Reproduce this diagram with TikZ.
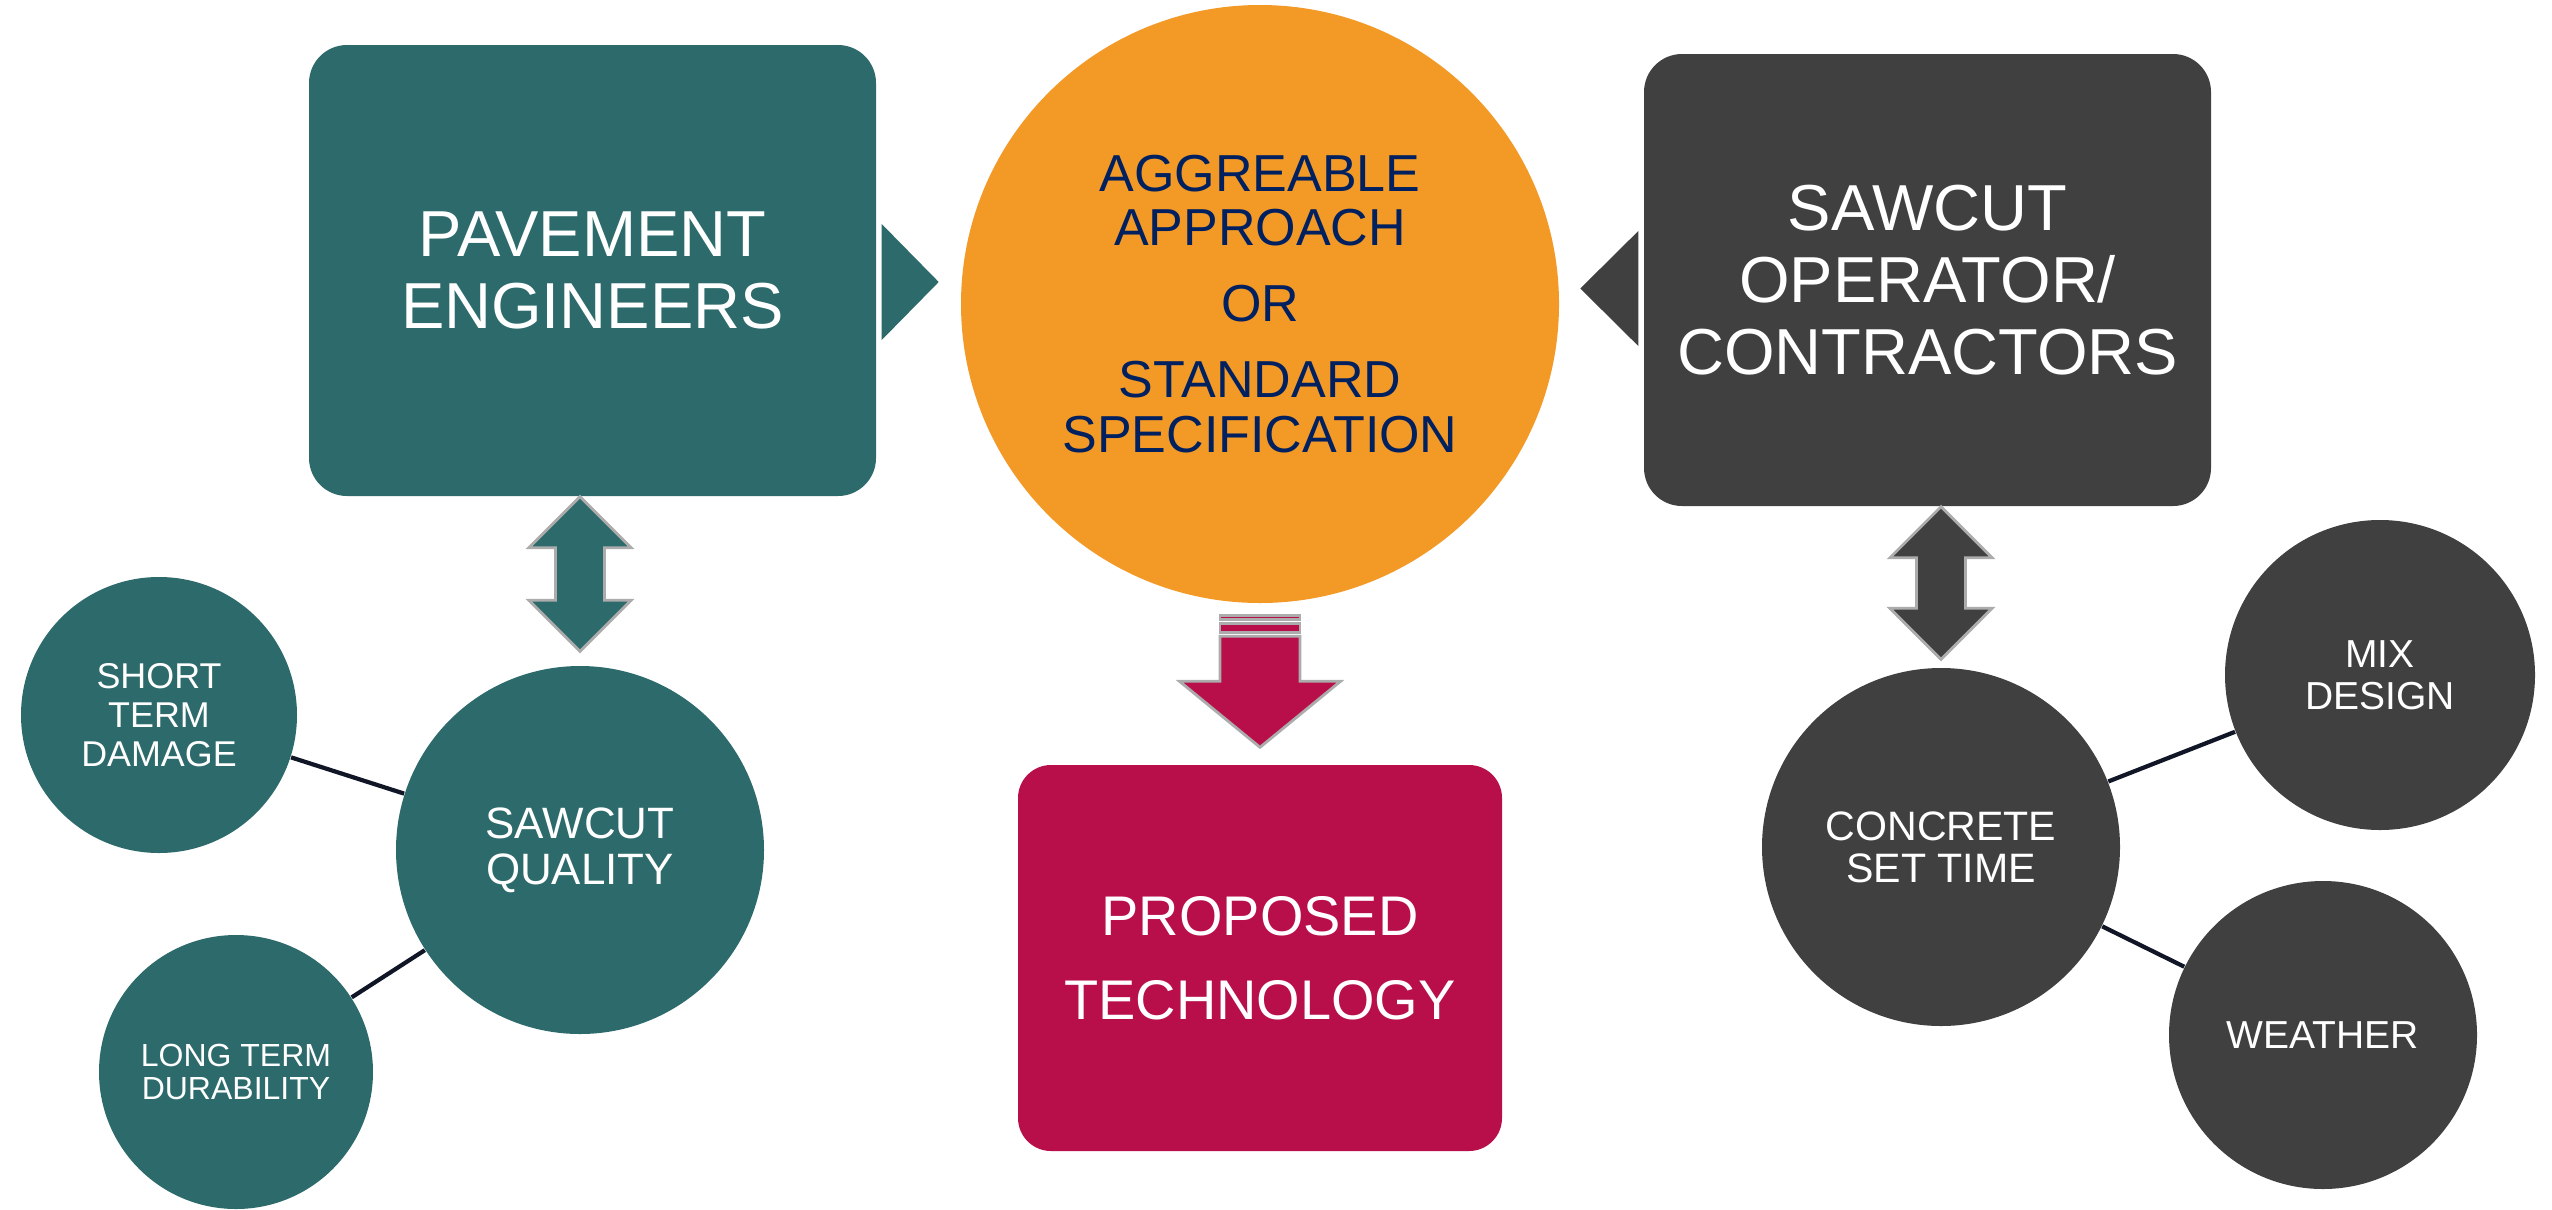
\documentclass[tikz,border=0pt]{standalone}
\usepackage{fontspec}
\setmainfont{Liberation Sans}
\usepackage{xcolor}
\usetikzlibrary{calc}

\definecolor{pavegreen}{RGB}{45,106,107}
\definecolor{opgrey}{RGB}{64,64,64}
\definecolor{specorange}{RGB}{242,153,38}
\definecolor{techred}{RGB}{184,15,74}
\definecolor{specnavy}{RGB}{0,32,96}
\definecolor{linkdark}{RGB}{16,22,38}

% up/down block arrow from top tip #1 to bottom tip #2
\newcommand{\dblarrow}[3]{%
  \filldraw[fill=#3, draw=gray!65, line width=0.8pt]
    (#1) -- ++(0.51,-0.51) -- ++(-0.265,0)
    -- ($(#2)+(0.245,0.51)$) -- ++(0.265,0) -- (#2)
    -- ++(-0.51,0.51) -- ++(0.265,0)
    -- ($(#1)+(-0.245,-0.51)$) -- ++(-0.265,0) -- cycle;}

\begin{document}
\begin{tikzpicture}[
    box/.style={rectangle, rounded corners=0.38cm, inner sep=0pt, align=center, text=white},
    bubble/.style={circle, inner sep=0pt, align=center, text=white},
    link/.style={draw=linkdark, line width=1.2pt},
    blockedge/.style={draw=gray!65, line width=0.8pt}
]
    \fill[white] (0,0) rectangle (25.52,-12.08);

    % top row
    \node[box, fill=pavegreen, minimum width=5.67cm, minimum height=4.51cm,
          font=\fontsize{18.5pt}{20.5pt}\selectfont] (pave) at (5.925,-2.705) {PAVEMENT\\ENGINEERS};
    \node[bubble, fill=specorange, minimum size=5.98cm, text=specnavy,
          font=\fontsize{14.8pt}{15.6pt}\selectfont] (spec) at (12.60,-3.04)
          {AGGREABLE\\APPROACH\\[6pt]OR\\[6pt]STANDARD\\SPECIFICATION};
    \node[box, fill=opgrey, minimum width=5.67cm, minimum height=4.52cm,
          font=\fontsize{18.5pt}{20.5pt}\selectfont] (op) at (19.275,-2.80) {SAWCUT\\OPERATOR/\\CONTRACTORS};

    % result
    \node[box, fill=techred, rounded corners=0.33cm, minimum width=4.84cm, minimum height=3.86cm,
          font=\fontsize{15.9pt}{23.9pt}\selectfont] (tech) at (12.60,-9.58) {PROPOSED\\TECHNOLOGY};

    % left cluster
    \node[bubble, fill=pavegreen, minimum size=3.68cm,
          font=\fontsize{12.5pt}{13.1pt}\selectfont] (qual) at (5.80,-8.50) {SAWCUT\\QUALITY};
    \node[bubble, fill=pavegreen, minimum size=2.76cm,
          font=\fontsize{10.2pt}{11pt}\selectfont] (short) at (1.59,-7.15) {SHORT\\TERM\\DAMAGE};
    \node[bubble, fill=pavegreen, minimum size=2.74cm,
          font=\fontsize{9.1pt}{9.4pt}\selectfont] (long) at (2.36,-10.72) {LONG TERM\\DURABILITY};

    % right cluster
    \node[bubble, fill=opgrey, minimum size=3.58cm,
          font=\fontsize{11.7pt}{12pt}\selectfont] (setting) at (19.41,-8.47) {CONCRETE\\SET TIME};
    \node[bubble, fill=opgrey, minimum size=3.10cm,
          font=\fontsize{11.1pt}{12pt}\selectfont] (mix) at (23.80,-6.75) {MIX\\DESIGN};
    \node[bubble, fill=opgrey, minimum size=3.08cm,
          font=\fontsize{11.1pt}{12pt}\selectfont] (weather) at (23.23,-10.35) {WEATHER};

    % pointers into the centre
    \fill[pavegreen] ($(pave.east)+(0.05,0.465)$) -- ++(0,-1.16) -- ++(0.57,0.58) -- cycle;
    \fill[opgrey] ($(op.west)+(-0.05,0.49)$) -- ++(0,-1.15) -- ++(-0.58,0.575) -- cycle;

    % block arrows
    \coordinate (qtop) at (qual.north |- pave.south);
    \coordinate (qbot) at ($(qual.north)+(0,0.14)$);
    \dblarrow{qtop}{qbot}{pavegreen}
    \coordinate (stop) at (setting.north |- op.south);
    \coordinate (sbot) at ($(setting.north)+(0,0.08)$);
    \dblarrow{stop}{sbot}{opgrey}

    \coordinate (ttip) at ($(tech.north)+(0,0.17)$);
    \filldraw[fill=techred, blockedge] (ttip) -- ++(0.805,0.66) -- ++(-0.405,0) -- ++(0,0.45)
        -- ++(-0.80,0) -- ++(0,-0.45) -- ++(-0.405,0) -- cycle;
    \filldraw[fill=techred, blockedge] ($(ttip)+(-0.40,1.145)$) rectangle ($(ttip)+(0.40,1.235)$);
    \filldraw[fill=techred, blockedge] ($(ttip)+(-0.40,1.277)$) rectangle ($(ttip)+(0.40,1.32)$);

    % links
    \draw[link] (short) -- (qual);
    \draw[link] (long) -- (qual);
    \draw[link] (setting) -- (mix);
    \draw[link] (setting) -- (weather);

\end{tikzpicture}
\end{document}
